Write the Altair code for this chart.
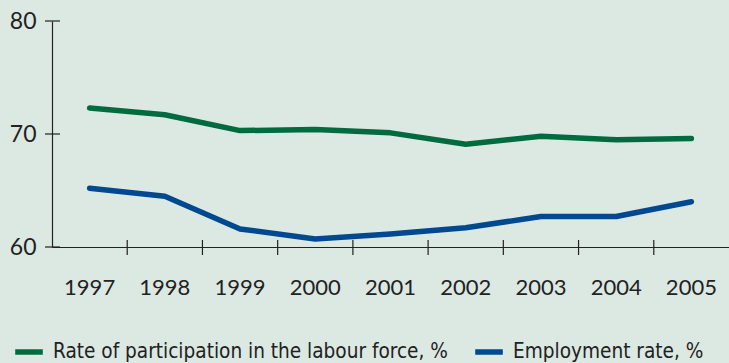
import altair as alt
import pandas as pd

years = ["1997", "1998", "1999", "2000", "2001", "2002", "2003", "2004", "2005"]
participation = [72.3, 71.7, 70.3, 70.4, 70.1, 69.1, 69.8, 69.5, 69.6]
employment = [65.2, 64.5, 61.6, 60.7, 61.15, 61.7, 62.7, 62.7, 64.0]
series_names = ["Rate of participation in the labour force, %", "Employment rate, %"]
series_colors = ["#006b3f", "#00488f"]
y_ticks = [60, 70, 80]

rows = []
for y, p, e in zip(years, participation, employment):
    rows.append({"year": y, "series": series_names[0], "value": p})
    rows.append({"year": y, "series": series_names[1], "value": e})
df = pd.DataFrame(rows)

xscale = alt.Scale(domain=years, type="band", paddingInner=0, paddingOuter=0)
yscale = alt.Scale(domain=[60, 80], nice=False, zero=False)

legend_font = "'Liberation Sans Narrow', 'DejaVu Sans Condensed', 'Roboto Condensed', Roboto, sans-serif"

lines = alt.Chart(df).mark_line(strokeWidth=5.5, strokeCap="round", strokeJoin="round").encode(
    x=alt.X("year:N", scale=xscale, bandPosition=0.5, sort=years,
            axis=alt.Axis(title=None, ticks=False, labelAngle=0, labelFont="Lato",
                          labelFontSize=22, labelColor="#222", labelPadding=30,
                          domainColor="#222", domainWidth=1.2)),
    y=alt.Y("value:Q", scale=yscale,
            axis=alt.Axis(title=None, values=y_ticks, ticks=False, labelFont="Lato",
                          labelFontSize=23, labelColor="#222", labelPadding=16,
                          domainColor="#222", domainWidth=1.2, grid=False)),
    color=alt.Color("series:N", sort=series_names,
                    scale=alt.Scale(domain=series_names, range=series_colors),
                    legend=alt.Legend(title=None, orient="none", direction="horizontal",
                                      legendX=-40, legendY=314,
                                      symbolType="stroke", symbolStrokeWidth=5.5,
                                      symbolSize=760, labelFont=legend_font,
                                      labelFontSize=20.6, labelColor="#222", labelLimit=0,
                                      labelOffset=7, columnPadding=16)),
)

xt = pd.DataFrame({"year": years[1:]})
xticks = alt.Chart(xt).mark_rule(color="#222", strokeWidth=1.2).encode(
    x=alt.X("year:N", scale=xscale, bandPosition=0, sort=years),
    y=alt.value(219), y2=alt.value(234),
)

yt = pd.DataFrame({"v": y_ticks})
yticks = alt.Chart(yt).mark_rule(color="#222", strokeWidth=1.2).encode(
    y=alt.Y("v:Q", scale=yscale),
    x=alt.value(-7), x2=alt.value(8),
)

chart = alt.layer(lines, xticks, yticks).properties(
    width=677, height=226,
    autosize=alt.AutoSizeParams(type="none"),
    padding={"left": 52, "top": 21, "right": 0, "bottom": 116},
).configure(background="#dce9e2").configure_view(stroke=None)

chart.save("out.html", embed_options={"renderer": "svg", "actions": False})
